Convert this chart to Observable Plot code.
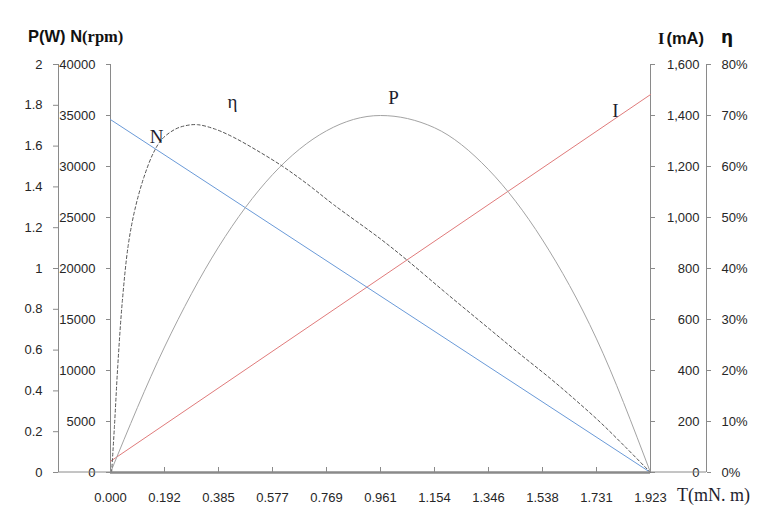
<!DOCTYPE html>
<html><head><meta charset="utf-8">
<script src="https://cdn.jsdelivr.net/npm/d3@7"></script>
<script src="https://cdn.jsdelivr.net/npm/@observablehq/plot@0.6"></script>
<style>
body{margin:0;background:#fff;}
#wrap{position:relative;width:776px;height:518px;overflow:hidden;}
</style></head><body>
<div id="wrap"></div>
<script>
// ---- axis ranges & tick labels ----
const torqueMax = 1.923;
const pMax = 2, nMax = 40000, iMax = 1600, etaMax = 80;
const xTickLabels = ["0.000","0.192","0.385","0.577","0.769","0.961","1.154","1.346","1.538","1.731","1.923"];
const pTickLabels = ["0","0.2","0.4","0.6","0.8","1","1.2","1.4","1.6","1.8","2"];
const nTickLabels = ["0","5000","10000","15000","20000","25000","30000","35000","40000"];
const iTickLabels = ["0","200","400","600","800","1,000","1,200","1,400","1,600"];
const etaTickLabels = ["0%","10%","20%","30%","40%","50%","60%","70%","80%"];

// ---- series ----
const nT = [0, 1.923];
const nVal = [34600, 0];
const iT = [0, 1.923];
const iVal = [44, 1482];
const pT = [0, 0.1923, 0.3846, 0.5769, 0.7692, 0.9615, 1.1538, 1.3461, 1.5384, 1.7307, 1.923];
const pVal = [0, 0.615, 1.105, 1.46, 1.675, 1.75, 1.69, 1.485, 1.14, 0.655, 0];
const etaT = [0.004, 0.014, 0.026, 0.042, 0.063, 0.087, 0.119, 0.154, 0.184, 0.23, 0.267, 0.31, 0.374, 0.439, 0.52, 0.611, 0.7, 0.795, 0.9615, 1.057, 1.199, 1.346, 1.436, 1.567, 1.654, 1.745, 1.83, 1.923];
const etaVal = [0, 9, 21, 33.5, 44.5, 51.6, 57.9, 62.8, 65.4, 67.3, 68.0, 68.2, 67.3, 65.7, 63.2, 60.1, 56.6, 52.5, 45.8, 41.6, 35.0, 28.3, 24.2, 18.4, 14.3, 9.8, 5.2, 0];

// curve labels: text, torque, value in its own unit, unit max
const labelText = ["N", "η", "P", "I"];
const labelT = [0.164, 0.4345, 1.008, 1.798];
const labelVal = [32900, 72.7, 1.834, 1419];
const labelMax = [nMax, etaMax, pMax, iMax];

const toRows = (ts, vs, max) => ts.map((t, i) => ({t, f: vs[i] / max}));
const nData = toRows(nT, nVal, nMax);
const iData = toRows(iT, iVal, iMax);
const pData = toRows(pT, pVal, pMax);
const etaData = toRows(etaT, etaVal, etaMax);
const labels = labelText.map((s, i) => ({s, t: labelT[i], f: labelVal[i] / labelMax[i]}));

const xTicks = xTickLabels.map((_, i) => i * torqueMax / 10);
const tenths = d3.range(11).map(i => i / 10);
const eighths = d3.range(9).map(i => i / 8);
const axisGray = "#8a8a8a";
const textCol = "#262626";

const chart = Plot.plot({
  width: 776, height: 518,
  marginTop: 64, marginBottom: 46, marginLeft: 110, marginRight: 126,
  style: {fontFamily: "'Liberation Sans', Arial, sans-serif", fontSize: "13px", color: textCol, background: "#fff", overflow: "visible"},
  x: {domain: [0, torqueMax], axis: null},
  y: {domain: [0, 1], axis: null},
  marks: [
    // axis lines
    Plot.ruleX([0], {dx: -52, stroke: axisGray}),
    Plot.ruleX([0], {stroke: axisGray}),
    Plot.ruleX([torqueMax], {stroke: axisGray}),
    Plot.ruleX([torqueMax], {dx: 56, stroke: axisGray}),
    // y axes
    Plot.axisY(tenths, {anchor: "left", dx: -52, tickSize: 5, tickPadding: 11, stroke: axisGray, fill: textCol, label: null,
      tickFormat: d => pTickLabels[Math.round(d * 10)]}),
    Plot.axisY(eighths, {anchor: "left", tickSize: 4, tickPadding: 11, stroke: axisGray, fill: textCol, label: null,
      tickFormat: d => nTickLabels[Math.round(d * 8)]}),
    Plot.axisY(eighths, {anchor: "right", tickSize: 4, tickPadding: 45, textAnchor: "end", stroke: axisGray, fill: textCol, label: null,
      tickFormat: d => iTickLabels[Math.round(d * 8)]}),
    Plot.axisY(eighths, {anchor: "right", dx: 56, tickSize: 4, tickPadding: 11, stroke: axisGray, fill: textCol, label: null,
      tickFormat: d => etaTickLabels[Math.round(d * 8)]}),
    // x axis
    Plot.axisX(xTicks, {anchor: "bottom", tickSize: -5, stroke: axisGray, tickFormat: () => "", label: null}),
    Plot.axisX(xTicks, {anchor: "bottom", tickSize: 0, tickPadding: 20, fill: textCol, label: null,
      tickFormat: d => xTickLabels[Math.round(d / torqueMax * 10)]}),
    // series
    Plot.line(iData, {x: "t", y: "f", stroke: "#e07b7b", strokeWidth: 1}),
    Plot.line(nData, {x: "t", y: "f", stroke: "#6a9ad8", strokeWidth: 1}),
    Plot.line(pData, {x: "t", y: "f", stroke: "#a3a3a3", strokeWidth: 1, curve: "monotone-x"}),
    Plot.line(etaData, {x: "t", y: "f", stroke: "#555555", strokeWidth: 1, strokeDasharray: "3,2.5", curve: "catmull-rom"}),
    Plot.ruleY([0], {stroke: axisGray, strokeWidth: 2.5}),
    // curve labels
    Plot.text(labels, {x: "t", y: "f", text: "s", fontFamily: "'Liberation Serif', 'DejaVu Serif', serif", fontSize: 19, fill: "#1e1e2e"})
  ]
});
document.getElementById("wrap").appendChild(chart);

// decorative connectors and titles
const svg = d3.select(chart);
const xs = chart.scale("x"), ys = chart.scale("y");
const x0 = xs.apply(0), x1 = xs.apply(torqueMax), yb = ys.apply(0);
svg.append("line").attr("x1", x0 - 52).attr("x2", x0).attr("y1", yb).attr("y2", yb).attr("stroke", axisGray);
svg.append("line").attr("x1", x1).attr("x2", x1 + 56).attr("y1", yb).attr("y2", yb).attr("stroke", axisGray);

const t1 = svg.append("text").attr("x", 28).attr("y", 42).attr("text-anchor", "start").attr("fill", "#111").attr("font-weight", "bold").attr("font-size", 16.5);
t1.append("tspan").attr("font-family", "'Liberation Sans', Arial, sans-serif").text("P(W) N");
t1.append("tspan").attr("font-family", "'Liberation Serif', serif").text("(rpm)");

const t2 = svg.append("text").attr("x", 658).attr("y", 44).attr("text-anchor", "start").attr("fill", "#111").attr("font-weight", "bold").attr("font-size", 16.5);
t2.append("tspan").attr("font-family", "'Liberation Serif', serif").text("I");
t2.append("tspan").attr("font-family", "'Liberation Sans', Arial, sans-serif").attr("dx", 2).text("(mA)");

svg.append("text").attr("x", 721).attr("y", 43).attr("text-anchor", "start").attr("fill", "#111").attr("font-weight", "bold").attr("font-size", 17)
  .attr("font-family", "'DejaVu Sans', sans-serif").text("η");

svg.append("text").attr("x", 677).attr("y", 501).attr("text-anchor", "start").attr("fill", "#1e1e2e").attr("font-size", 18)
  .attr("font-family", "'Liberation Serif', serif").text("T(mN. m)");
</script>
</body></html>
